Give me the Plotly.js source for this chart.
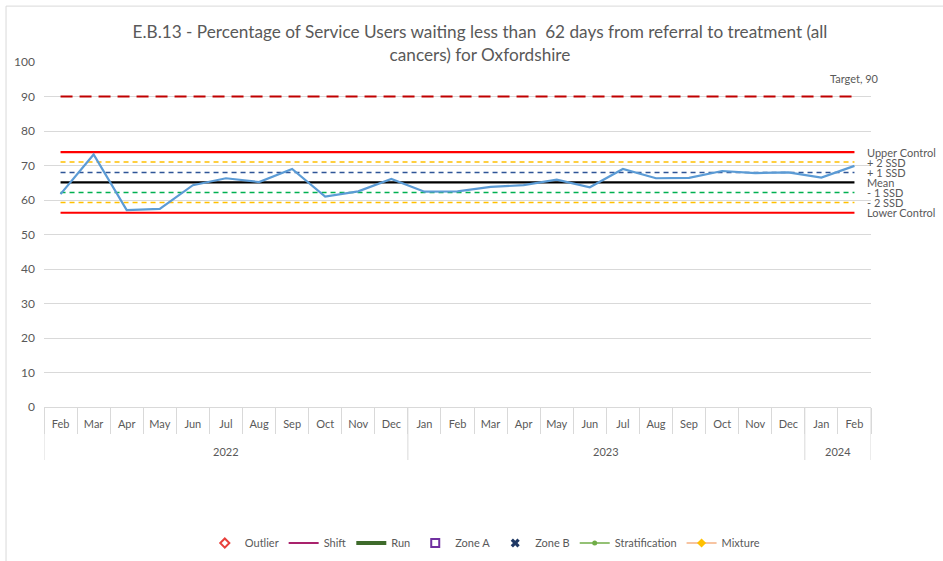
<!DOCTYPE html>
<html>
<head>
<meta charset="utf-8">
<script src="https://cdn.plot.ly/plotly-3.0.1.min.js"></script>
<style>
html,body{margin:0;padding:0;background:#fff;}
#chart{width:943px;height:561px;}
</style>
</head>
<body>
<div id="chart"></div>
<script>
// ---- data ----
const months = ['Feb','Mar','Apr','May','Jun','Jul','Aug','Sep','Oct','Nov','Dec',
                'Jan','Feb','Mar','Apr','May','Jun','Jul','Aug','Sep','Oct','Nov','Dec',
                'Jan','Feb'];
const years = ['2022','2022','2022','2022','2022','2022','2022','2022','2022','2022','2022',
               '2023','2023','2023','2023','2023','2023','2023','2023','2023','2023','2023','2023',
               '2024','2024'];
const values = [61.7,73.2,57.1,57.4,64.3,66.3,65.2,69.0,61.0,62.5,66.1,
                62.4,62.5,63.8,64.3,65.9,63.7,69.0,66.3,66.4,68.4,67.8,68.0,
                66.5,69.9];
const target = 90;
const upperControl = 73.9;
const plus2SSD = 71.0;
const plus1SSD = 68.0;
const mean = 65.1;
const minus1SSD = 62.2;
const minus2SSD = 59.3;
const lowerControl = 56.3;
const legendNames = ['Outlier','Shift','Run','Zone A','Zone B','Stratification','Mixture'];

// ---- build ----
// unique category labels (zero-width spaces keep repeated month names distinct and in time order)
const seen = {};
const x = months.map(m => {
  seen[m] = (seen[m] || 0);
  const lab = m + '\u200b'.repeat(seen[m]);
  seen[m] += 1;
  return lab;
});
const constArr = v => months.map(() => v);
const nullArr = months.map(() => null);

// year groups (start/end category index) derived from the years array
const groups = [];
years.forEach((yr, i) => {
  const g = groups[groups.length - 1];
  if (g && g.year === yr) g.end = i; else groups.push({year: yr, start: i, end: i});
});

function hline(v, color, width, dash) {
  return {x: x, y: constArr(v), type: 'scatter', mode: 'lines', showlegend: false,
          hoverinfo: 'skip', line: {color: color, width: width, dash: dash || 'solid'}};
}

const traces = [
  hline(target, '#C00000', 2.2, '12px,7px'),
  hline(upperControl, '#FF0000', 2.2),
  hline(plus2SSD, '#FFC000', 1.5, '5px,4px'),
  hline(plus1SSD, '#2F5597', 1.5, '5px,4px'),
  hline(mean, '#000000', 2.2),
  hline(minus1SSD, '#00B050', 1.5, '5px,4px'),
  hline(minus2SSD, '#FFC000', 1.5, '5px,4px'),
  hline(lowerControl, '#FF0000', 2.2),
  {x: x, y: values, type: 'scatter', mode: 'lines', showlegend: false,
   line: {color: '#5B9BD5', width: 2.2}},
  // legend-only series
  {x: x, y: nullArr, name: legendNames[0], type: 'scatter', mode: 'markers',
   marker: {symbol: 'diamond-open', color: '#E8413C', size: 7, line: {width: 2}}},
  {x: x, y: nullArr, name: legendNames[1], type: 'scatter', mode: 'lines',
   line: {color: '#A9226C', width: 2}},
  {x: x, y: nullArr, name: legendNames[2], type: 'scatter', mode: 'lines',
   line: {color: '#3E6B2B', width: 4}},
  {x: x, y: nullArr, name: legendNames[3], type: 'scatter', mode: 'markers',
   marker: {symbol: 'square-open', color: '#7030A0', size: 8, line: {width: 2}}},
  {x: x, y: nullArr, name: legendNames[4], type: 'scatter', mode: 'markers',
   marker: {symbol: 'x', color: '#1F3864', size: 8}},
  {x: x, y: nullArr, name: legendNames[5], type: 'scatter', mode: 'lines+markers',
   line: {color: '#70AD47', width: 1.5}, marker: {symbol: 'circle', color: '#70AD47', size: 5}},
  {x: x, y: nullArr, name: legendNames[6], type: 'scatter', mode: 'lines+markers',
   line: {color: '#F4B183', width: 1.5}, marker: {symbol: 'diamond', color: '#FFC000', size: 7}}
];

const FONT = 'Lato, "Open Sans", sans-serif';
const grey = '#595959';
const axisGrey = '#d9d9d9';
const plotH = 345;

function sideLabel(v, txt) {
  return {xref: 'paper', yref: 'y', x: 1, y: v, xanchor: 'left', yanchor: 'middle',
          xshift: -6, text: txt, showarrow: false, font: {family: FONT, size: 11, color: grey}};
}

const annotations = [
  {xref: 'paper', yref: 'y', x: 0.9795, y: target, xanchor: 'center', yanchor: 'bottom',
   yshift: 10, text: 'Target, 90', showarrow: false, font: {family: FONT, size: 11, color: grey}},
  sideLabel(upperControl, 'Upper Control'),
  sideLabel(plus2SSD, '+ 2 SSD'),
  sideLabel(plus1SSD, '+ 1 SSD'),
  sideLabel(mean, 'Mean'),
  sideLabel(minus1SSD, '- 1 SSD'),
  sideLabel(minus2SSD, '- 2 SSD'),
  sideLabel(lowerControl, 'Lower Control')
];
const shapes = [
  // chart frame (top and left edges)
  {type: 'line', xref: 'paper', yref: 'paper', x0: -0.0459, x1: 1.2, y0: 1.162, y1: 1.162,
   line: {color: axisGrey, width: 1}},
  {type: 'line', xref: 'paper', yref: 'paper', x0: -0.0459, x1: -0.0459, y0: 1.162, y1: -0.5,
   line: {color: axisGrey, width: 1}}
];
groups.forEach((g, k) => {
  annotations.push({xref: 'x', yref: 'paper', x: (g.start + g.end) / 2, y: -44 / plotH,
    xanchor: 'center', yanchor: 'middle', text: g.year, showarrow: false,
    font: {family: FONT, size: 11, color: grey}});
  if (k === 0) shapes.push({type: 'line', xref: 'x', yref: 'paper', x0: g.start - 0.5, x1: g.start - 0.5,
    y0: 0, y1: -53 / plotH, line: {color: axisGrey, width: 1}});
  shapes.push({type: 'line', xref: 'x', yref: 'paper', x0: g.end + 0.5, x1: g.end + 0.5,
    y0: 0, y1: -53 / plotH, line: {color: axisGrey, width: 1}});
});

const layout = {
  width: 943, height: 561,
  margin: {l: 44, r: 72, t: 62, b: 154},
  paper_bgcolor: '#ffffff', plot_bgcolor: '#ffffff',
  font: {family: FONT, color: grey, size: 12},
  title: {
    text: 'E.B.13 - Percentage of Service Users waiting less than  62 days from referral to treatment (all<br>cancers) for Oxfordshire',
    x: 0.509, xref: 'container', xanchor: 'center',
    y: 0.932, yref: 'container', yanchor: 'top',
    font: {family: FONT, size: 17.2, color: grey}
  },
  xaxis: {
    type: 'category',
    range: [-0.5, months.length - 0.5], autorange: false,
    showline: true, linecolor: axisGrey, linewidth: 1,
    ticks: 'outside', tickson: 'boundaries', ticklen: 26, tickcolor: axisGrey,
    ticklabelstandoff: 7,
    showgrid: false, zeroline: false,
    tickfont: {family: FONT, size: 11, color: grey}
  },
  yaxis: {
    range: [0, 100], autorange: false, dtick: 10, tick0: 0,
    showgrid: true, gridcolor: axisGrey, gridwidth: 1,
    zeroline: false, showline: false, ticks: '',
    ticklabelstandoff: 8,
    tickfont: {family: FONT, size: 12, color: grey}
  },
  showlegend: true,
  legend: {
    orientation: 'h', xref: 'paper', x: 0.533, xanchor: 'center',
    yref: 'container', y: 0.032, yanchor: 'middle',
    font: {family: FONT, size: 11, color: grey}, itemwidth: 30,
    bgcolor: 'rgba(0,0,0,0)'
  },
  annotations: annotations,
  shapes: shapes
};

Plotly.newPlot('chart', traces, layout, {displayModeBar: false, staticPlot: true});
</script>
</body>
</html>
